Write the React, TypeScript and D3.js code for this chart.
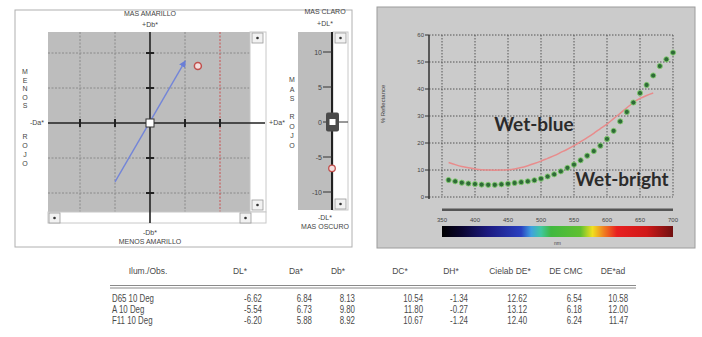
import * as d3 from "d3";

// ---- data ----
const abTicks = [-10, -5, 0, 5, 10];
const lightTicks = [10, 5, 0, -5, -10];
const lightTickLabels = ["10", "5", "0", "-5", "-10"];
// hue arrow drawn in the a*b* plane (Da*, Db*)
const hueArrow = [
  { da: -5.0, db: -8.4 },
  { da: 5.0, db: 8.8 },
];

const illuminants = ["D65 10 Deg", "A 10 Deg", "F11 10 Deg"];
const headers = ["Ilum./Obs.", "DL*", "Da*", "Db*", "DC*", "DH*", "Cielab DE*", "DE CMC", "DE*ad"];
const dL = [-6.62, -5.54, -6.2];
const da = [6.84, 6.73, 5.88];
const db = [8.13, 9.8, 8.92];
const dC = [10.54, 11.8, 10.67];
const dH = [-1.34, -0.27, -1.24];
const cielabDE = [12.62, 13.12, 12.4];
const deCMC = [6.54, 6.18, 6.24];
const deAd = [10.58, 12.0, 11.47];

const nmTicks = [350, 400, 450, 500, 550, 600, 650, 700];
const reflTicks = [0, 10, 20, 30, 40, 50, 60];

const wetBlueNm = [360, 370, 380, 390, 400, 410, 420, 430, 440, 450, 460, 470, 480, 490, 500, 510,
  520, 530, 540, 550, 560, 570, 580, 590, 600, 610, 620, 630, 640, 650, 660, 670];
const wetBlueR = [12.8, 12.0, 11.3, 10.8, 10.4, 10.1, 10.0, 9.9, 10.0, 10.1, 10.4, 10.9, 11.6, 12.4, 13.3, 14.3,
  15.3, 16.5, 17.7, 19.0, 20.5, 22.0, 23.6, 25.3, 27.0, 29.0, 31.0, 33.0, 35.0, 36.5, 37.6, 38.5];

const wetBrightNm = [360, 370, 380, 390, 400, 410, 420, 430, 440, 450, 460, 470, 480, 490, 500, 510,
  520, 530, 540, 550, 560, 570, 580, 590, 600, 610, 620, 630, 640, 650, 660, 670, 680, 690, 700];
const wetBrightR = [6.3, 5.8, 5.3, 5.0, 4.8, 4.6, 4.5, 4.5, 4.7, 4.9, 5.2, 5.5, 5.8, 6.2, 6.8, 7.6,
  8.4, 9.5, 10.8, 12.0, 13.6, 15.3, 17.0, 19.0, 21.5, 24.5, 28.0, 31.5, 35.0, 38.5, 41.5, 45.0, 48.5, 51.0, 53.5];

const spectrumNm = [350, 380, 420, 470, 485, 500, 515, 560, 578, 595, 615, 660, 700];
const spectrumColor = ["#000000", "#0a0530", "#1c1a80", "#2a40c0", "#40a0e0", "#40c8a0", "#40b840",
  "#60c030", "#f0e020", "#f08020", "#e82020", "#d01818", "#701010"];

const sans = "'Liberation Sans', Arial, sans-serif";
const ink = "#444";

function ScrollButton({ x, y }: { x: number; y: number }) {
  return (
    <g>
      <rect x={x} y={y} width={11} height={10} fill="#f2f2f2" stroke="#9a9a9a" strokeWidth={0.8} />
      <circle cx={x + 5.5} cy={y + 5} r={1.3} fill="#333" />
    </g>
  );
}

function VText({ x, y0, step, text }: { x: number; y0: number; step: number; text: string }) {
  return (
    <g>
      {text.split("").map((c, i) => (
        <text key={i} x={x} y={y0 + i * step} fontSize={7} fill={ink} textAnchor="middle" fontFamily={sans}>
          {c}
        </text>
      ))}
    </g>
  );
}

function AbPanel() {
  const x = d3.scaleLinear().domain([-10, 10]).range([80, 220]);
  const y = d3.scaleLinear().domain([-10, 10]).range([193, 53]);
  const arrowLine = d3.line<{ da: number; db: number }>().x((d) => x(d.da)).y((d) => y(d.db));
  const cx = x(0);
  const cy = y(0);
  return (
    <g>
      <rect x={15} y={10} width={337} height={237} fill="#fff" stroke="#b0b0b0" />
      <rect x={48} y={32} width={202} height={180} fill="#bdbdbd" />
      {abTicks.filter((t) => t !== 0).map((t) => (
        <g key={t}>
          <line x1={x(t)} x2={x(t)} y1={32} y2={212} stroke={t === 10 ? "#c85050" : "#8a8a8a"}
            strokeDasharray="2,1.5" strokeWidth={1} />
          <line x1={48} x2={250} y1={y(t)} y2={y(t)} stroke="#8a8a8a" strokeDasharray="2,1.5" strokeWidth={1} />
        </g>
      ))}
      {/* scrollbars */}
      <rect x={250} y={32} width={16} height={180} fill="#fff" stroke="#c8c8c8" />
      <rect x={48} y={212} width={218} height={11} fill="#fff" stroke="#c8c8c8" />
      <ScrollButton x={252} y={33} />
      <ScrollButton x={252} y={200} />
      <ScrollButton x={49} y={213} />
      <ScrollButton x={240} y={213} />
      {/* axes */}
      <line x1={cx} x2={cx} y1={32} y2={223} stroke="#222" strokeWidth={1.6} />
      <line x1={48} x2={265} y1={cy} y2={cy} stroke="#222" strokeWidth={1.6} />
      {abTicks.filter((t) => t !== 0).map((t) => (
        <g key={"k" + t}>
          <line x1={x(t)} x2={x(t)} y1={cy - 4} y2={cy + 4} stroke="#222" strokeWidth={2} />
          <line x1={cx - 4} x2={cx + 4} y1={y(t)} y2={y(t)} stroke="#222" strokeWidth={2} />
        </g>
      ))}
      <defs>
        <marker id="arr" viewBox="0 0 10 10" refX={8} refY={5} markerWidth={5} markerHeight={5} orient="auto">
          <path d="M0,0 L10,5 L0,10 z" fill="#6a7ed6" />
        </marker>
      </defs>
      <path d={arrowLine(hueArrow) ?? ""} stroke="#7385d8" strokeWidth={1.4} fill="none" markerEnd="url(#arr)" />
      <rect x={cx - 4} y={cy - 4} width={8} height={8} fill="#fff" stroke="#333" strokeWidth={1} />
      <circle cx={x(da[0])} cy={y(db[0])} r={3.5} fill="#f4dede" stroke="#c0504d" strokeWidth={1.5} />
      {/* labels */}
      <text x={150} y={16} fontSize={7} fill={ink} textAnchor="middle" fontFamily={sans}>MAS AMARILLO</text>
      <text x={150} y={27} fontSize={7} fill={ink} textAnchor="middle" fontFamily={sans}>+Db*</text>
      <text x={150} y={235} fontSize={7} fill={ink} textAnchor="middle" fontFamily={sans}>-Db*</text>
      <text x={150} y={244} fontSize={7} fill={ink} textAnchor="middle" fontFamily={sans}>MENOS AMARILLO</text>
      <text x={37} y={125} fontSize={7} fill={ink} textAnchor="middle" fontFamily={sans}>-Da*</text>
      <text x={277} y={125} fontSize={7} fill={ink} textAnchor="middle" fontFamily={sans}>+Da*</text>
      <VText x={25} y0={74} step={8.5} text="MENOS" />
      <VText x={25} y0={139} step={9} text="ROJO" />
      <VText x={292} y0={82} step={9.5} text="MAS" />
      <VText x={292} y0={119} step={9.5} text="ROJO" />
    </g>
  );
}

function LightPanel() {
  const y = d3.scaleLinear().domain([-10, 10]).range([192, 52]);
  const c = y(0);
  return (
    <g>
      <rect x={298} y={32} width={34} height={178} fill="#bdbdbd" />
      <rect x={333} y={32} width={15} height={178} fill="#fff" stroke="#c8c8c8" />
      <ScrollButton x={335} y={33} />
      <ScrollButton x={335} y={199} />
      <line x1={332} x2={332} y1={32} y2={210} stroke="#222" strokeWidth={2} />
      {lightTicks.map((t, i) => (
        <g key={t}>
          <line x1={323} x2={332} y1={y(t)} y2={y(t)} stroke="#333" strokeWidth={1} />
          <text x={322} y={y(t) + 2.5} fontSize={7} fill={ink} textAnchor="end" fontFamily={sans}>
            {lightTickLabels[i]}
          </text>
        </g>
      ))}
      <line x1={332} x2={348} y1={c} y2={c} stroke="#333" strokeWidth={1} />
      <rect x={326} y={c - 9.5} width={13} height={19} rx={2} fill="#4a4a4a" />
      <rect x={329.5} y={c - 3} width={6} height={6} fill="#fff" />
      <circle cx={332} cy={y(dL[0])} r={3.3} fill="#f4dede" stroke="#c0504d" strokeWidth={1.3} />
      <text x={325} y={14} fontSize={7} fill={ink} textAnchor="middle" fontFamily={sans}>MAS CLARO</text>
      <text x={325} y={26} fontSize={7} fill={ink} textAnchor="middle" fontFamily={sans}>+DL*</text>
      <text x={325} y={220} fontSize={7} fill={ink} textAnchor="middle" fontFamily={sans}>-DL*</text>
      <text x={325} y={229} fontSize={7} fill={ink} textAnchor="middle" fontFamily={sans}>MAS OSCURO</text>
    </g>
  );
}

function SpectrumPanel() {
  const x = d3.scaleLinear().domain([350, 700]).range([442, 673]);
  const y = d3.scaleLinear().domain([0, 60]).range([197, 35]);
  const blue = wetBlueNm.map((n, i) => ({ n, r: wetBlueR[i] }));
  const bright = wetBrightNm.map((n, i) => ({ n, r: wetBrightR[i] }));
  const curve = d3.line<{ n: number; r: number }>().x((d) => x(d.n)).y((d) => y(d.r)).curve(d3.curveMonotoneX);
  const off = d3.scaleLinear().domain([350, 700]).range([0, 100]);
  const x0 = 429;
  return (
    <g>
      <rect x={377} y={7} width={318} height={241} fill="#cbcbcb" stroke="#9c9c9c" />
      <defs>
        <linearGradient id="spec" x1="0" x2="1" y1="0" y2="0">
          {spectrumNm.map((n, i) => (
            <stop key={n} offset={`${off(n)}%`} stopColor={spectrumColor[i]} />
          ))}
        </linearGradient>
      </defs>
      {reflTicks.map((t) => (
        <g key={t}>
          <line x1={x0} x2={x(700)} y1={y(t)} y2={y(t)} stroke="#555" strokeDasharray="1.5,1.5" strokeWidth={1} />
          <line x1={x0 - 4} x2={x0} y1={y(t)} y2={y(t)} stroke="#333" />
          <text x={x0 - 5} y={y(t) + 2} fontSize={6} fill={ink} textAnchor="end" fontFamily={sans}>{t}</text>
        </g>
      ))}
      {nmTicks.map((t) => (
        <g key={t}>
          <line x1={x(t)} x2={x(t)} y1={y(60)} y2={y(0)} stroke="#555" strokeDasharray="1.5,1.5" strokeWidth={1} />
          <text x={x(t)} y={222} fontSize={6} fill={ink} textAnchor="middle" fontFamily={sans}>{t}</text>
        </g>
      ))}
      <line x1={x0} x2={x0} y1={y(60)} y2={y(0) + 2} stroke="#333" strokeWidth={1.5} />
      <rect x={x(350)} y={208.5} width={x(700) - x(350)} height={2.5} fill="#555" />
      <rect x={x(350)} y={226} width={x(700) - x(350)} height={11} fill="url(#spec)" />
      <text x={x(525)} y={245} fontSize={5} fill={ink} textAnchor="middle" fontFamily={sans}>nm</text>
      <text transform={`translate(385,104) rotate(-90)`} fontSize={6} fill={ink} textAnchor="middle" fontFamily={sans}>
        % Reflectance
      </text>
      <path d={curve(blue) ?? ""} fill="none" stroke="#e88c8c" strokeWidth={1.5} />
      {bright.map((d) => (
        <circle key={d.n} cx={x(d.n)} cy={y(d.r)} r={2.6} fill="#2f6b38" stroke="#86cf72" strokeWidth={0.9} />
      ))}
      <text x={534} y={131} fontSize={19} fontWeight="bold" fill="#2b2b2b" textAnchor="middle" fontFamily="Lato, sans-serif">
        Wet-blue
      </text>
      <text x={622} y={186} fontSize={19} fontWeight="bold" fill="#2b2b2b" textAnchor="middle" fontFamily="Lato, sans-serif">
        Wet-bright
      </text>
    </g>
  );
}

function Table() {
  const valueCols = [dL, da, db, dC, dH, cielabDE, deCMC, deAd];
  const headerX = [148, 240, 296, 338, 400, 451, 510, 566, 613];
  const valueRight = [262, 312, 355, 423, 468, 527, 582, 628];
  const rowY = [302, 313, 324];
  return (
    <g fontFamily={sans} fill="#4a4a4a">
      {headers.map((h, i) => (
        <text key={h} x={headerX[i]} y={274} fontSize={8.5} textAnchor="middle">{h}</text>
      ))}
      <line x1={110} x2={636} y1={285.5} y2={285.5} stroke="#8a8a8a" strokeWidth={1.2} />
      <line x1={110} x2={636} y1={288} y2={288} stroke="#8a8a8a" strokeWidth={1.2} />
      {illuminants.map((lab, r) => (
        <g key={lab}>
          <text transform={`translate(112,${rowY[r]}) scale(0.75,1)`} fontSize={10.5}>{lab}</text>
          {valueCols.map((col, c) => (
            <text key={c} transform={`translate(${valueRight[c]},${rowY[r]}) scale(0.75,1)`} fontSize={10.5} textAnchor="end">
              {col[r].toFixed(2)}
            </text>
          ))}
        </g>
      ))}
    </g>
  );
}

export default function App() {
  return (
    <svg width={702} height={337} viewBox="0 0 702 337"
      style={{ position: "absolute", left: 0, top: 0, background: "#fff", display: "block" }}>
      <AbPanel />
      <LightPanel />
      <SpectrumPanel />
      <Table />
    </svg>
  );
}
